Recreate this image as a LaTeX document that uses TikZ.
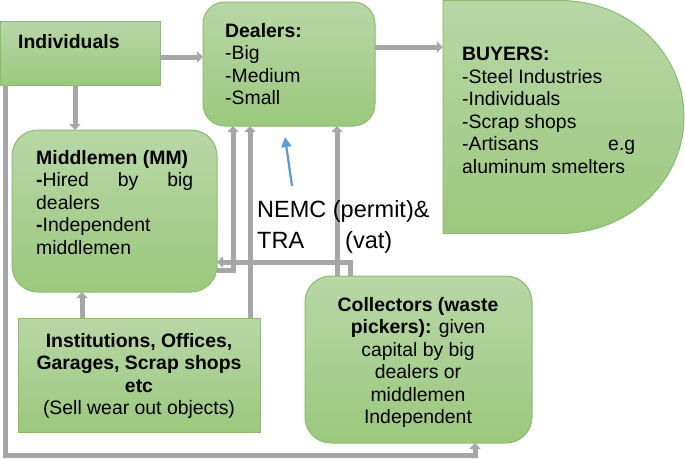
\documentclass[tikz,border=0pt]{standalone}
\usepackage{fontspec}
\setmainfont{Liberation Sans}
\usetikzlibrary{arrows.meta,calc}
\definecolor{gtop}{RGB}{184,215,166}
\definecolor{gbot}{RGB}{156,200,126}
\definecolor{gline}{RGB}{138,188,108}
\definecolor{conncol}{RGB}{166,166,166}
\definecolor{bluecol}{RGB}{91,155,213}
\newcommand{\boxfont}{\fontsize{19.4}{22.5}\selectfont}
\newcommand{\bigfont}{\fontsize{23.5}{31}\selectfont}
\begin{document}
\begin{tikzpicture}[x=1pt,y=-1pt,
  greenbox/.style={draw=gline, line width=1pt, top color=gtop, bottom color=gbot, inner sep=0pt, outer sep=0pt},
  flow/.style={draw=conncol, line width=5pt, -{Triangle[width=11pt,length=6pt]}},
  bluearr/.style={draw=bluecol, line width=2.2pt, -{Triangle[width=10pt,length=10pt]}},
  txt/.style={inner sep=0pt, font=\boxfont, anchor=north west, align=left},
  txtc/.style={inner sep=0pt, font=\boxfont, anchor=north, align=center}]
\useasboundingbox (0,0) rectangle (685,458);

% boxes
\node[greenbox, minimum width=160pt, minimum height=64pt] (ind) at (80,53) {};
\node[greenbox, rounded corners=22pt, minimum width=172pt, minimum height=124pt] (dealers) at (289,64) {};
\draw[greenbox] (443,0.5) -- (560,0.5) arc[start angle=-90, end angle=90, x radius=124, y radius=116.5] -- (443,233.5) -- cycle;
\node[inner sep=0pt, minimum width=242pt, minimum height=233pt] (buyers) at (564,117) {};
\node[greenbox, rounded corners=26pt, minimum width=205pt, minimum height=162pt] (mm) at (114.5,211) {};
\node[greenbox, minimum width=242pt, minimum height=114pt] (inst) at (139,375) {};
\node[greenbox, rounded corners=26pt, minimum width=227pt, minimum height=167pt] (coll) at (418.5,359.5) {};

% connectors
\draw[flow] (ind.east |- 0,57) -- (dealers.west |- 0,57);
\draw[flow] (ind.south -| 75,0) -- (mm.north -| 75,0);
\draw[flow] (dealers.east |- 0,47) -- (buyers.west |- 0,47);
\draw[flow] (ind.south -| 5,0) -- (5,455) -- (475,455) -- (coll.south -| 475,0);
\draw[flow] (inst.north -| 82,0) -- (mm.south -| 82,0);
\draw[flow] (inst.north -| 250,0) -- (dealers.south -| 250,0);
\draw[flow] (mm.east |- 0,270) -- (233,270) -- (dealers.south -| 233,0);
\draw[flow] (coll.north -| 350,0) -- (350,262) -- (mm.east |- 0,262);
\draw[flow] (coll.north -| 337,0) -- (dealers.south -| 337,0);

\coordinate (btail) at (292,186);
\coordinate (bhead) at (285,137);
\draw[bluearr] (btail) -- (bhead);

% texts
\node[txt] (indT) at (18,34) {\textbf{Individuals}};
\node[txt] (dealT) at (225,23) {\textbf{Dealers:}\\-Big\\-Medium\\-Small};
\node[txt] (buyT) at (462,47) {\textbf{BUYERS:}\\-Steel Industries\\-Individuals\\-Scrap shops\\\makebox[173pt][l]{-Artisans\hfill e.g}\\aluminum smelters};
\node[txt] (mmT) at (36,150) {\textbf{Middlemen (MM)}\\\makebox[157pt][l]{\textbf{-}Hired\hfill by\hfill big}\\dealers\\\textbf{-}Independent\\middlemen};
\node[txtc] (instT) at (139,333) {\textbf{Institutions, Offices,}\\\textbf{Garages, Scrap shops}\\\textbf{etc}\\(Sell wear out objects)};
\node[txtc] (collT) at (418,297) {\textbf{Collectors (waste}\\\textbf{pickers):} given\\capital by big\\dealers or\\middlemen\\Independent};
\node[inner sep=0pt, font=\bigfont, anchor=north west, align=left] (nemc) at (257,200) {NEMC (permit)\&\\TRA\hspace{41pt}(vat)};
\end{tikzpicture}
\end{document}
